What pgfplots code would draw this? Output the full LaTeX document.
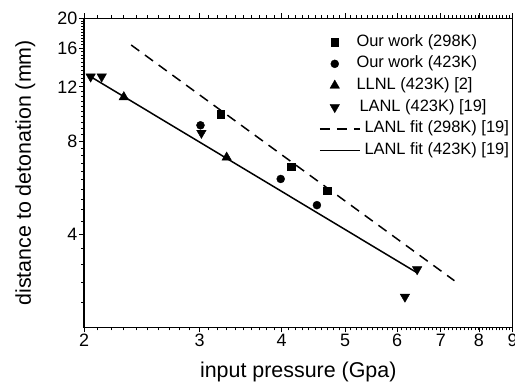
\documentclass[border=0pt]{standalone}
\usepackage{fontspec}
\setmainfont{Liberation Sans}
\usepackage{pgfplots}
\pgfplotsset{compat=1.18}
\pgfplotsset{
 markleg/.style={legend image code/.code={\path (0bp,0bp) (40bp,0bp); \draw[##1] plot coordinates {(15bp,0bp)};}},
 lineleg/.style={legend image code/.code={\draw[##1] (0bp,0bp) -- (40bp,0bp);}},
}
\begin{document}
\begin{tikzpicture}
\begin{axis}[
 at={(0,0)}, anchor=south west,
 scale only axis, width=428.5bp, height=309bp,
 xmode=log, ymode=log,
 xmin=2, xmax=9, ymin=2, ymax=20,
 xtick={2,3,4,5,6,7,8,9}, xticklabels={2,3,4,5,6,7,8,9},
 ytick={4,8,12,16,20}, yticklabels={4,8,12,16,20},
 minor xtick={2.1,2.2,...,8.95},
 minor ytick={2.4,2.8,...,19.7},
 tick align=outside,
 xtick pos=both, ytick pos=left,
 xticklabel pos=bottom,
 major tick length=5bp, minor tick length=3bp,
 every tick/.style={black, line width=0.9bp},
 axis line style={line width=1.1bp},
 tick label style={font=\fontsize{18}{20}\selectfont, inner sep=1.5bp},
 /pgf/number format/assume math mode=true,
 xlabel={input pressure (Gpa)}, ylabel={distance to detonation (mm)},
 label style={font=\fontsize{21.5}{24}\selectfont},
 xlabel style={at={(axis description cs:0.5,-0.146)}, anchor=center},
 ylabel style={at={(axis description cs:-0.137,0.5)}, anchor=center},
 legend style={at={(axis description cs:0.548,0.951)}, anchor=north west, draw=none, fill=none, inner sep=0pt, row sep=4.7bp, column sep=3bp, font=\fontsize{16.5}{19}\selectfont, nodes={inner sep=1bp, text height=11.5bp, text depth=3.5bp}},
 legend cell align=left,
]
\addplot[only marks, mark=square*, mark size=3.8bp, black, markleg]
  coordinates {(3.23,9.78) (4.14,6.62) (4.70,5.54)};
\addlegendentry{\hspace{-8bp}Our work (298K)}
\addplot[only marks, mark=*, mark size=4bp, black, markleg]
  coordinates {(3.01,9.01) (3.99,6.04) (4.53,4.97)};
\addlegendentry{\hspace{-8bp}Our work (423K)}
\addplot[only marks, mark=triangle*, mark size=5.5bp, black, markleg]
  coordinates {(2.30,11.12) (3.30,7.09)};
\addlegendentry{\hspace{-8bp}LLNL (423K) [2]}
\addplot[only marks, mark=triangle*, mark size=5.5bp, mark options={rotate=180}, black, markleg]
  coordinates {(2.047,12.95) (2.128,12.95) (3.02,8.51) (6.44,3.08) (6.17,2.51)};
\addlegendentry{\hspace{-5bp}LANL (423K) [19]}
\addplot[black, line width=1.5bp, dash pattern=on 10bp off 7bp, lineleg]
  coordinates {(2.36,16.39) (7.34,2.83)};
\addlegendentry{LANL fit (298K) [19]}
\addplot[black, line width=1.5bp, lineleg]
  coordinates {(2.028,13.1) (6.46,2.99)};
\addlegendentry{LANL fit (423K) [19]}
\end{axis}
\pgfresetboundingbox
\path[use as bounding box] (-84bp,-57.7bp) rectangle (431bp,327.3bp);
\end{tikzpicture}
\end{document}
